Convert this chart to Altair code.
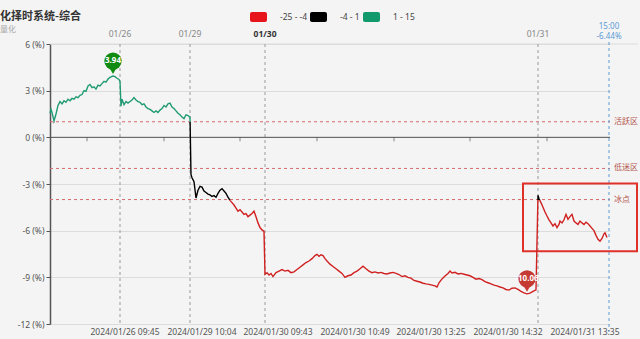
import altair as alt
import pandas as pd

# ---------------- data ----------------
# time index (one step ~ one screen sample) and value (%) per trading segment
t_a = [0, 1, 2, 4, 6, 8, 10, 12, 14, 16,
       18, 20, 22, 24, 26, 28, 30, 32, 34, 36,
       38, 40, 42, 44, 46, 48, 50, 52, 54, 56,
       58, 60, 62, 63, 65, 67, 69, 70, 71, 72,
       74, 76, 78, 80, 82, 84, 86, 88, 90, 92,
       94, 96, 98, 100, 102, 104, 106, 108, 110, 112,
       114, 116, 118, 120, 122, 124, 126, 128, 130, 132,
       134, 136, 138, 140]
v_a = [1.55, 1.8, 1.6, 1.05, 1.5, 2.05, 2.3, 2.15, 2.35, 2.25,
       2.45, 2.35, 2.5, 2.45, 2.6, 2.55, 2.7, 2.75, 3.0, 2.95,
       3.3, 3.4, 3.2, 3.25, 3.1, 3.35, 3.3, 3.45, 3.6, 3.55,
       3.75, 3.85, 3.92, 3.94, 3.9, 3.8, 3.72, 3.6, 2.0, 2.45,
       2.1, 2.3, 2.2, 2.3, 2.4, 2.55, 2.4, 2.3, 2.25, 2.1,
       2.15, 1.95, 1.85, 1.8, 1.7, 1.6, 1.7, 1.6, 1.75, 1.85,
       2.05, 1.95, 2.15, 2.2, 1.95, 1.85, 1.7, 1.55, 1.45, 1.3,
       1.2, 1.45, 1.4, 1.3]
t_b = [141, 142, 144, 146, 148, 150, 152, 154, 156, 158,
       160, 162, 164, 166, 168, 170, 172, 174, 176, 178,
       180, 182, 184, 186, 188, 190, 192, 194, 196, 198,
       200, 202, 204, 206, 208, 210, 212, 214]
v_b = [-2.4, -2.6, -2.85, -3.9, -3.4, -3.15, -3.2, -3.45, -3.55, -3.65,
       -3.7, -3.8, -3.75, -3.85, -3.6, -3.4, -3.3, -3.45, -3.6, -3.85,
       -4.05, -4.2, -4.35, -4.55, -4.75, -4.65, -4.8, -4.95, -4.9, -5.1,
       -5.0, -4.9, -4.75, -5.1, -5.5, -5.8, -5.95, -6.05]
t_c = [215, 217, 219, 221, 223, 226, 229, 232, 235, 238,
       241, 244, 247, 250, 253, 256, 259, 262, 265, 267,
       269, 271, 273, 275, 277, 280, 283, 286, 289, 292,
       295, 298, 301, 304, 307, 310, 313, 316, 319, 322,
       325, 328, 331, 334, 337, 340, 343, 346, 349, 352,
       355, 358, 361, 364, 367, 370, 373, 376, 379, 382,
       385, 387, 389, 392, 395, 398, 400, 402, 405, 408,
       411, 414, 417, 420, 423, 426, 429, 432, 435, 438,
       441, 444, 447, 450, 453, 456, 459, 462, 465, 468,
       471, 474, 477, 480, 483, 486]
v_c = [-8.8, -8.7, -8.85, -8.75, -8.95, -8.7, -8.6, -8.5, -8.6, -8.55,
       -8.7, -8.65, -8.5, -8.35, -8.2, -8.05, -7.95, -7.8, -7.6, -7.52,
       -7.65, -7.55, -7.6, -7.8, -7.95, -8.15, -8.3, -8.45, -8.6, -8.75,
       -9.0, -8.9, -8.85, -8.7, -8.6, -8.45, -8.28, -8.45, -8.6, -8.7,
       -8.65, -8.72, -8.68, -8.75, -8.78, -8.72, -8.68, -8.75, -8.82, -8.95,
       -8.9, -9.0, -9.05, -9.2, -9.25, -9.3, -9.38, -9.42, -9.45, -9.5,
       -9.55, -9.62, -9.35, -9.1, -8.92, -8.75, -8.6, -8.72, -8.68, -8.78,
       -8.75, -8.8, -8.85, -8.9, -9.0, -9.12, -9.08, -9.15, -9.28, -9.35,
       -9.42, -9.5, -9.55, -9.62, -9.68, -9.78, -9.82, -9.7, -9.68, -9.78,
       -9.9, -10.0, -10.06, -10.02, -9.9, -9.8]
t_d = [488, 489, 491, 493, 495, 497, 499, 501, 503, 505,
       507, 509, 510, 512, 514, 516, 518, 520, 522, 524,
       526, 528, 530, 532, 534, 536, 538, 540, 542, 544,
       546, 548, 550, 552, 554, 555, 557]
v_d = [-3.73, -3.95, -4.2, -4.5, -4.8, -5.06, -5.3, -5.5, -5.7, -5.55,
       -5.8, -5.6, -5.38, -5.5, -5.3, -4.95, -5.27, -5.1, -4.95, -5.38,
       -5.5, -5.6, -5.38, -5.5, -5.6, -5.45, -5.55, -5.7, -5.85, -6.0,
       -6.3, -6.55, -6.67, -6.5, -6.2, -6.13, -6.44]

zone_values = [1, -2, -4]
zone_names = ["活跃区", "低迷区", "冰点"]

day_t = [70, 140, 215, 488]
day_labels = ["01/26", "01/29", "01/30", "01/31"]
close_t = [559]
close_time = ["15:00"]
close_value = ["-6.44%"]

bottom_t = [75, 152, 228, 305, 381, 458, 535]
bottom_labels = ["2024/01/26 09:45", "2024/01/29 10:04", "2024/01/30 09:43",
                 "2024/01/30 10:49", "2024/01/30 13:25", "2024/01/30 14:32",
                 "2024/01/31 13:35"]
zero_tick_t = [37, 114, 190, 267, 344, 420, 497]
y_ticks = [-12, -9, -6, -3, 0, 3, 6]

legend_labels = ["-25 - -4", "-4 - 1", "1 - 15"]
legend_colors = ["#e8141c", "#000000", "#139a6c"]
thresholds = [-4, 1]

title_text = "化择时系统-综合"
subtitle_text = "量化"

# ---------------- build ----------------
t_all = t_a + t_b + t_c + t_d
v_all = v_a + v_b + v_c + v_d
assert len(t_all) == len(v_all)
line_df = pd.DataFrame({"t": t_all, "v": v_all})

vmax, vmin = max(v_all), min(v_all)
off_hi = (vmax - thresholds[1]) / (vmax - vmin)
off_lo = (vmax - thresholds[0]) / (vmax - vmin)
BLACK = legend_colors[1]
LINE_RED = "#d02020"
LINE_GREEN = "#1f9a72"
grad = alt.Gradient(
    gradient="linear", x1=0, x2=0, y1=0, y2=1,
    stops=[
        alt.GradientStop(color=LINE_GREEN, offset=0),
        alt.GradientStop(color=LINE_GREEN, offset=off_hi),
        alt.GradientStop(color=BLACK, offset=off_hi),
        alt.GradientStop(color=BLACK, offset=off_lo),
        alt.GradientStop(color=LINE_RED, offset=off_lo),
        alt.GradientStop(color=LINE_RED, offset=1),
    ],
)

W, H = 560, 280
FONT = "Noto Sans, Noto Sans CJK SC"
xs = alt.Scale(domain=[0, W], nice=False, zero=False)
ys = alt.Scale(domain=[-12, 6], nice=False, zero=False)

yaxis = alt.Axis(
    values=y_ticks, labelExpr="datum.value + ' (%)'",
    title=None, grid=True, gridColor="#dcdcdc", gridWidth=1,
    domainColor="#555555", domainWidth=1.5, tickColor="#555555", tickSize=4,
    labelColor="#555555", labelFontSize=8.5, labelPadding=2, labelFont=FONT,
)


def X(f="t"):
    return alt.X(f"{f}:Q", scale=xs, axis=None)


def Y(f="v"):
    return alt.Y(f"{f}:Q", scale=ys, axis=yaxis)


main = alt.Chart(line_df).mark_line(stroke=grad, strokeWidth=1.4).encode(x=X(), y=Y())

zone_df = pd.DataFrame({"v": zone_values, "name": zone_names})
zones = alt.Chart(zone_df).mark_rule(color="#d66a6a", strokeDash=[3, 3], strokeWidth=1).encode(
    y=Y(), x=alt.value(0), x2=alt.value(W)
)
zone_text = alt.Chart(zone_df).mark_text(align="left", baseline="middle", fontSize=8,
                                          color="#b5574f", font=FONT).encode(
    y=Y(), x=alt.value(W + 4), text="name:N"
)

top_line = alt.Chart(pd.DataFrame({"v": [6]})).mark_rule(color="#dcdcdc").encode(
    y=Y(), x=alt.value(0), x2=alt.value(W + 28)
)

zero_line = alt.Chart(pd.DataFrame({"v": [0]})).mark_rule(color="#555555", strokeWidth=1).encode(
    y=Y(), x=alt.value(0), x2=alt.value(W)
)
zt_df = pd.DataFrame({"t": zero_tick_t, "v": [0] * len(zero_tick_t)})
zero_ticks = alt.Chart(zt_df).mark_tick(orient="vertical", size=4, thickness=1,
                                        color="#555555", yOffset=2).encode(x=X(), y=Y())

day_df = pd.DataFrame({"t": day_t, "lab": day_labels})
day_lines = alt.Chart(day_df).mark_rule(color="#9a9a9a", strokeDash=[3, 3]).encode(
    x=X(), y=alt.value(0), y2=alt.value(H)
)
day_text = alt.Chart(day_df[day_df["lab"] != "01/30"]).mark_text(
    fontSize=8.5, color="#888888", font=FONT, baseline="middle").encode(
    x=X(), y=alt.value(-10), text="lab:N")
day_text_b = alt.Chart(day_df[day_df["lab"] == "01/30"]).mark_text(
    fontSize=8.5, color="#333333", font=FONT, fontWeight="bold", baseline="middle").encode(
    x=X(), y=alt.value(-10), text="lab:N")

close_df = pd.DataFrame({"t": close_t, "a": close_time, "b": close_value})
close_line = alt.Chart(close_df).mark_rule(color="#5b9bd5", strokeDash=[3, 3]).encode(
    x=X(), y=alt.value(-2), y2=alt.value(H + 8)
)
close_a = alt.Chart(close_df).mark_text(fontSize=8, color="#5b9bd5", font=FONT,
                                        baseline="middle").encode(
    x=X(), y=alt.value(-17), text="a:N")
close_b = alt.Chart(close_df).mark_text(fontSize=8, color="#5b9bd5", font=FONT,
                                        baseline="middle").encode(
    x=X(), y=alt.value(-7), text="b:N")

bottom_df = pd.DataFrame({"t": bottom_t, "lab": bottom_labels})
bottom_text = alt.Chart(bottom_df).mark_text(fontSize=8.5, color="#555555", font=FONT,
                                             baseline="middle").encode(
    x=X(), y=alt.value(H + 8), text="lab:N")

# red annotation box around the last session
box_df = pd.DataFrame({"t": [473], "t2": [587], "v": [-2.96], "v2": [-7.33]})
box = alt.Chart(box_df).mark_rect(fillOpacity=0, stroke="#e0302a", strokeWidth=2).encode(
    x=X(), x2="t2:Q", y=Y(), y2="v2:Q")

# max / min pins
i_max, i_min = v_all.index(vmax), v_all.index(vmin)
pin_df = pd.DataFrame({
    "t": [t_all[i_max], t_all[i_min]],
    "v": [vmax, vmin],
    "lab": [f"{vmax:.2f}", f"{vmin:.2f}"],
    "c": ["#118a11", "#c53a32"],
})
pin_circle = alt.Chart(pin_df).mark_point(shape="circle", filled=True, size=300, opacity=1,
                                          yOffset=-15).encode(
    x=X(), y=Y(), color=alt.Color("c:N", scale=None))
pin_tip = alt.Chart(pin_df).mark_point(shape="triangle-down", filled=True, size=80, opacity=1,
                                       yOffset=-6).encode(
    x=X(), y=Y(), color=alt.Color("c:N", scale=None))
pin_text = alt.Chart(pin_df).mark_text(color="white", fontSize=8, fontWeight="bold",
                                       font=FONT, yOffset=-15, baseline="middle").encode(
    x=X(), y=Y(), text="lab:N")

# legend (manual)
LEG_X = [200, 260, 313]
leg_df = pd.DataFrame({"lab": legend_labels, "c": legend_colors, "x": LEG_X,
                       "x2": [x + 17 for x in LEG_X], "xt": [x + 30 for x in LEG_X]})
leg_rect = alt.Chart(leg_df).mark_rect(cornerRadius=2).encode(
    x=alt.X("x:Q", scale=None, axis=None), x2="x2:Q",
    y=alt.value(-32), y2=alt.value(-22), color=alt.Color("c:N", scale=None))
leg_text = alt.Chart(leg_df).mark_text(align="left", baseline="middle", fontSize=8.5,
                                       color="#444444", font=FONT).encode(
    x=alt.X("xt:Q", scale=None, axis=None), y=alt.value(-27), text="lab:N")

title = alt.Chart(pd.DataFrame({"s": [title_text]})).mark_text(
    align="left", baseline="middle", fontSize=11, fontWeight="bold", color="#333333",
    font="Noto Sans CJK SC").encode(x=alt.value(-50), y=alt.value(-27), text="s:N")
subtitle = alt.Chart(pd.DataFrame({"s": [subtitle_text]})).mark_text(
    align="left", baseline="middle", fontSize=8, color="#aaaaaa",
    font="Noto Sans CJK SC").encode(x=alt.value(-50), y=alt.value(-14), text="s:N")

chart = alt.layer(
    top_line, zones, day_lines, close_line, zero_line, zero_ticks, box,
    main, zone_text, day_text, day_text_b, close_a, close_b, bottom_text,
    pin_circle, pin_tip, pin_text, leg_rect, leg_text, title, subtitle,
).properties(
    width=W, height=H,
    padding={"left": 50, "top": 44, "right": 30, "bottom": 15},
    autosize=alt.AutoSizeParams(type="none"),
    background="#f4f4f4",
).configure_view(stroke="transparent")

chart.save("out.html", embed_options={"renderer": "svg", "actions": False})
